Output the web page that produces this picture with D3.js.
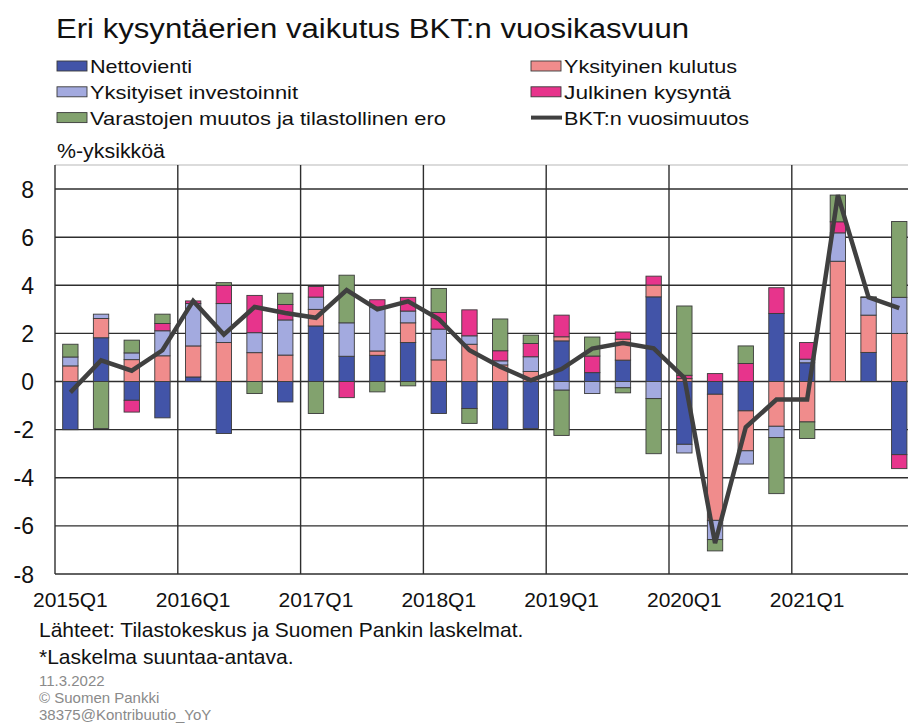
<!DOCTYPE html>
<html><head><meta charset="utf-8">
<script src="https://cdn.jsdelivr.net/npm/d3@7"></script>
<style>
html,body{margin:0;padding:0;background:#fff;overflow:hidden}
text{font-family:"Liberation Sans",Arial,sans-serif}
</style></head>
<body>
<svg id="chart" width="908" height="724"></svg>
<script>
const quarters = ["2015Q1","2015Q2","2015Q3","2015Q4","2016Q1","2016Q2","2016Q3","2016Q4",
"2017Q1","2017Q2","2017Q3","2017Q4","2018Q1","2018Q2","2018Q3","2018Q4",
"2019Q1","2019Q2","2019Q3","2019Q4","2020Q1","2020Q2","2020Q3","2020Q4",
"2021Q1","2021Q2","2021Q3","2021Q4"];
const nettovienti = [-2.0,1.82,-0.78,-1.51,0.19,-2.16,0,-0.85,2.31,1.05,1.09,1.62,-1.33,-1.12,-1.98,-1.95,1.69,0.37,0.89,3.52,-2.61,-0.53,-1.22,2.83,0.78,0,1.21,-3.04];
const kulutus = [0.65,0.80,0.91,1.07,1.29,1.62,1.20,1.10,0.69,0,0.18,0.82,0.90,1.55,0.69,0.42,0.17,0,0.87,0.49,0.12,-5.24,-1.66,-1.86,-1.68,5.00,1.55,2.00];
const investoinnit = [0.37,0.18,0.28,1.04,1.76,1.62,0.83,1.46,0.51,1.39,1.83,0.49,1.28,0.35,0.17,0.61,-0.36,-0.50,-0.26,-0.71,-0.36,-0.80,-0.55,-0.47,0.15,1.18,0.73,1.50];
const julkinen = [0,0,-0.49,0.30,0.11,0.76,1.55,0.64,0.44,-0.67,0.30,0.57,0.69,1.08,0.42,0.55,0.90,0.69,0.30,0.37,0.14,0.33,0.75,1.07,0.69,0.46,0,-0.58];
const varasto = [0.53,-1.95,0.53,0.39,0,0.11,-0.50,0.47,-1.33,1.98,-0.43,-0.18,1.00,-0.62,1.32,0.35,-1.88,0.79,-0.21,-2.29,2.88,-0.47,0.73,-2.33,-0.69,1.11,0.03,3.15];
const bkt = [-0.45,0.88,0.45,1.30,3.35,1.95,3.10,2.85,2.65,3.80,3.00,3.33,2.60,1.30,0.62,0.05,0.52,1.37,1.60,1.38,0.15,-6.72,-1.90,-0.75,-0.75,7.75,3.50,3.05];
const yTicks = [-8,-6,-4,-2,0,2,4,6,8];
const xTickLabels = ["2015Q1","2016Q1","2017Q1","2018Q1","2019Q1","2020Q1","2021Q1"];

const seriesNames = ["Nettovienti","Yksityinen kulutus","Yksityiset investoinnit","Julkinen kysyntä","Varastojen muutos ja tilastollinen ero"];
const seriesVals = [nettovienti,kulutus,investoinnit,julkinen,varasto];
const colors = ["#4254a8","#f08c8c","#a3aadf","#e7348c","#82a26e"];

const svg = d3.select("#chart");
const L = 55, R = 914.6, T = 165, B = 574;
const x = d3.scaleBand().domain(quarters).range([L,R]).paddingInner(0.5).paddingOuter(0.25);
const y = d3.scaleLinear().domain([-8,9]).range([B,T]);
const step = x.step(), bw = x.bandwidth();

// table for stacking
const table = quarters.map((q,i)=>{const o={q}; seriesNames.forEach((n,k)=>o[n]=seriesVals[k][i]); return o;});
const stack = d3.stack().keys(seriesNames).offset(d3.stackOffsetDiverging);
const layers = stack(table);

// grid
const g = svg.append("g");
g.append("line").attr("x1",L).attr("x2",908).attr("y1",T).attr("y2",T).attr("stroke","#cfcfcf").attr("stroke-width",1.5);
g.selectAll(".hg").data(yTicks).join("line")
  .attr("x1",L).attr("x2",908).attr("y1",d=>y(d)).attr("y2",d=>y(d))
  .attr("stroke","#2e2e2e").attr("stroke-width",1.4);
const yearStarts = quarters.filter(q=>q.endsWith("Q1"));
g.selectAll(".vg").data(yearStarts).join("line")
  .attr("x1",d=>x(d)+bw/2-step/2).attr("x2",d=>x(d)+bw/2-step/2)
  .attr("y1",T).attr("y2",B)
  .attr("stroke","#2e2e2e").attr("stroke-width",1.4);

// bars
svg.append("g").selectAll("g").data(layers).join("g")
  .attr("fill",(d,i)=>colors[i])
  .selectAll("rect").data(d=>d.map(v=>({v,q:v.data.q}))).join("rect")
  .filter(d=>Math.abs(d.v[1]-d.v[0])>1e-9)
  .attr("x",d=>x(d.q)).attr("width",bw)
  .attr("y",d=>y(Math.max(d.v[0],d.v[1])))
  .attr("height",d=>Math.abs(y(d.v[0])-y(d.v[1])))
  .attr("stroke","#3a3a3a").attr("stroke-width",0.9);

// line
const line = d3.line().x((d,i)=>x(quarters[i])+bw/2).y(d=>y(d));
svg.append("path").datum(bkt).attr("d",line).attr("fill","none")
  .attr("stroke","#404040").attr("stroke-width",4.5).attr("stroke-linejoin","miter");

// y tick labels
svg.append("g").selectAll("text").data(yTicks).join("text")
  .attr("x",34).attr("y",d=>y(d)+8.5).attr("text-anchor","end")
  .attr("font-size",23).attr("fill","#111").text(d=>d);
// x tick labels
svg.append("g").selectAll("text").data(xTickLabels).join("text")
  .attr("x",d=>x(d)+bw/2).attr("y",607).attr("text-anchor","middle")
  .attr("font-size",21).attr("fill","#111").text(d=>d);

// title
svg.append("text").attr("x",56).attr("y",38).attr("font-size",27).attr("fill","#111")
  .attr("textLength",633).attr("lengthAdjust","spacingAndGlyphs")
  .text("Eri kysyntäerien vaikutus BKT:n vuosikasvuun");
svg.append("text").attr("x",57).attr("y",158).attr("font-size",20).attr("fill","#111")
  .attr("textLength",108).attr("lengthAdjust","spacingAndGlyphs").text("%-yksikköä");

// legend
const legendItems = [
  {name:seriesNames[0],col:0,row:0,w:102,type:"bar",c:colors[0]},
  {name:seriesNames[1],col:1,row:0,w:173,type:"bar",c:colors[1]},
  {name:seriesNames[2],col:0,row:1,w:208,type:"bar",c:colors[2]},
  {name:seriesNames[3],col:1,row:1,w:167,type:"bar",c:colors[3]},
  {name:seriesNames[4],col:0,row:2,w:356,type:"bar",c:colors[4]},
  {name:"BKT:n vuosimuutos",col:1,row:2,w:185,type:"line",c:"#404040"}
];
const lg = svg.append("g");
legendItems.forEach(it=>{
  const sx = it.col===0?57:531, cy = 66+it.row*25.8;
  if(it.type==="bar") lg.append("rect").attr("x",sx).attr("y",cy-5).attr("width",30).attr("height",10)
     .attr("fill",it.c).attr("stroke","#3a3a3a").attr("stroke-width",0.9);
  else lg.append("line").attr("x1",sx).attr("x2",sx+31).attr("y1",cy).attr("y2",cy).attr("stroke",it.c).attr("stroke-width",4);
  lg.append("text").attr("x",sx+33).attr("y",cy+7).attr("font-size",19).attr("fill","#111")
    .attr("textLength",it.w).attr("lengthAdjust","spacingAndGlyphs").text(it.name);
});

// footer
svg.append("text").attr("x",39).attr("y",637).attr("font-size",21).attr("fill","#111")
  .text("Lähteet: Tilastokeskus ja Suomen Pankin laskelmat.");
svg.append("text").attr("x",39).attr("y",664).attr("font-size",21).attr("fill","#111")
  .text("*Laskelma suuntaa-antava.");
const small = ["11.3.2022","© Suomen Pankki","38375@Kontribuutio_YoY"];
svg.append("g").selectAll("text").data(small).join("text")
  .attr("x",39).attr("y",(d,i)=>686+i*17).attr("font-size",15).attr("fill","#8a8a8a").text(d=>d);
</script>
</body></html>
